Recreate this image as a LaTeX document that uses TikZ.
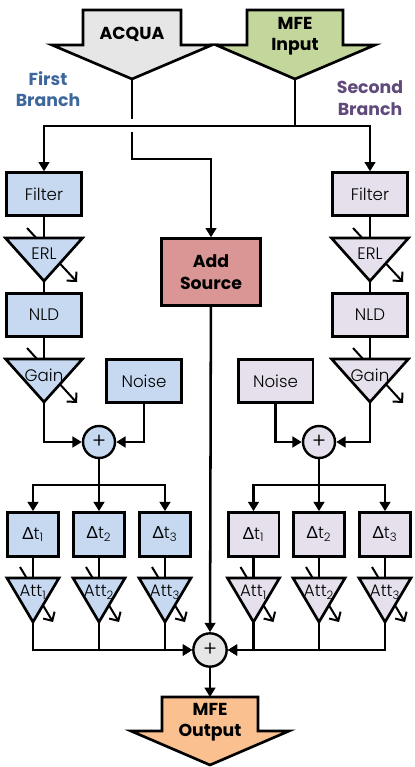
\documentclass[tikz,border=0pt]{standalone}
\usepackage{fontspec}
\setmainfont{Poppins Light}
\newfontfamily\heavyfont{Poppins}[BoldFont={Poppins Bold}]
\newfontfamily\greekfont{Lato}
\usetikzlibrary{arrows.meta}
\definecolor{bluebox}{RGB}{198,217,241}
\definecolor{lilacbox}{RGB}{229,224,236}
\definecolor{acquagray}{RGB}{230,230,230}
\definecolor{mfegreen}{RGB}{195,214,155}
\definecolor{outorange}{RGB}{250,192,144}
\definecolor{srcred}{RGB}{217,150,148}
\definecolor{firstblue}{RGB}{62,103,158}
\definecolor{secondlilac}{RGB}{96,74,123}
\tikzset{
  box/.style={draw, line width=2pt, minimum width=56pt, minimum height=32pt, inner sep=0pt, font=\fontsize{12.5}{14}\selectfont},
  dtbox/.style={box, minimum width=38pt, minimum height=33pt},
  sum/.style={draw, circle, line width=1.8pt, minimum size=24pt, inner sep=0pt, font=\fontsize{16}{16}\selectfont},
  tri/.style={draw, line width=2pt, line join=miter},
  wire/.style={line width=1.9pt},
  feed/.style={wire, -{Triangle[length=7pt,width=8pt]}},
  knob/.style={line width=1.5pt, -{Straight Barb[length=5pt,width=10pt]}},
  bold/.style={font=\heavyfont\bfseries\fontsize{13}{16}\selectfont, align=center},
  label/.style={font=\fontsize{12.5}{14}\selectfont}
}
\begin{document}
\begin{tikzpicture}[x=0.75pt, y=-0.75pt]
  \useasboundingbox (0,0) rectangle (414,767);
  % Inputs
  \draw[tri, fill=acquagray] (83,10) -- (181,10) -- (181,45) -- (212,45) -- (132,79) -- (52,45) -- (83,45) -- cycle;
  \node[bold] (acqua) at (132,34) {ACQUA};
  \coordinate (acquatip) at (132,79);
  \draw[tri, fill=mfegreen] (247,10) -- (343,10) -- (343,45) -- (375,45) -- (295,79) -- (216,45) -- (247,45) -- cycle;
  \node[bold] (mfein) at (295,36) {MFE\\Input};
  \coordinate (mfetip) at (295,79);
  \node[bold, text=firstblue] (first) at (48,89) {First\\Branch};
  \node[bold, text=secondlilac] (second) at (370,98) {Second\\Branch};
  % Add source
  \node[box, fill=srcred, minimum width=74pt, minimum height=50pt, bold] (addsrc) at (211,272) {Add\\Source};
  \draw[wire] (mfetip) -- (295,126) coordinate (fork);
  \draw[wire] (acquatip) -- (132,119) coordinate (hopA);
  \coordinate (hopB) at (132,132);
  \draw[feed] (hopB) -- (132,159) -| (addsrc);
  % Branches
  \foreach \s/\cx/\nx/\col in {L/44/144/bluebox, R/370/275.5/lilacbox}{
    \node[box, fill=\col] (filter\s) at (\cx,194) {Filter};
    \draw[feed] (fork) -| (filter\s);
    % ERL
    \draw[knob] (\cx-17,228) -- (\cx+33,282);
    \draw[tri, fill=\col] (\cx-38.5,238) -- (\cx+38.5,238) -- (\cx,281) -- cycle;
    \node[label] (erl\s) at (\cx,254) {ERL};
    \draw[wire] (filter\s) -- (\cx,238);
    \node[box, fill=\col] (nld\s) at (\cx,315) {NLD};
    \draw[wire] (\cx,281) -- (nld\s);
    % Gain
    \draw[knob] (\cx-17,348) -- (\cx+33,403);
    \draw[tri, fill=\col] (\cx-38.5,359) -- (\cx+38.5,359) -- (\cx,402) -- cycle;
    \node[label] (gain\s) at (\cx,375) {Gain};
    \draw[wire] (nld\s) -- (\cx,359);
    \coordinate (gainout\s) at (\cx,402);
    \node[box, fill=\col] (noise\s) at (\nx,381) {Noise};
  }
  \node[sum, fill=bluebox] (sumL) at (99,442) {+};
  \node[sum, fill=lilacbox] (sumR) at (319,442) {+};
  \foreach \s in {L,R}{
    \draw[feed] (gainout\s) |- (sum\s);
    \draw[feed] (noise\s) |- (sum\s);
    \draw[wire] (sum\s) -- (sum\s |- 0,485) coordinate (bus\s);
  }
  % Output sum
  \node[sum, fill=acquagray, minimum size=25pt] (total) at (210,650) {+};
  \draw[feed] (addsrc) -- (total);
  % Delays and attenuations
  \foreach \s/\cx/\i/\col in {L/33/1/bluebox, L/99/2/bluebox, L/165/3/bluebox, R/253.5/1/lilacbox, R/319/2/lilacbox, R/385/3/lilacbox}{
    \node[dtbox, fill=\col] (dt\s\i) at (\cx,534.5) {{\greekfont Δ}t\textsubscript{\i}};
    \draw[feed] (bus\s) -| (dt\s\i);
    \draw[knob] (\cx-13,567) -- (\cx+20,622);
    \draw[tri, fill=\col] (\cx-26,578) -- (\cx+26,578) -- (\cx,622) -- cycle;
    \node[label] (att\s\i) at (\cx,592) {Att\textsubscript{\i}};
    \draw[wire] (dt\s\i) -- (\cx,578);
    \draw[feed] (\cx,622) |- (total);
  }
  % Output
  \draw[tri, fill=outorange] (162,697) -- (258,697) -- (258,731) -- (289,731) -- (210,765) -- (131,731) -- (162,731) -- cycle;
  \node[bold] (mfeout) at (210,722) {MFE\\Output};
  \coordinate (outtop) at (210,697);
  \draw[feed] (total) -- (outtop);
\end{tikzpicture}
\end{document}
